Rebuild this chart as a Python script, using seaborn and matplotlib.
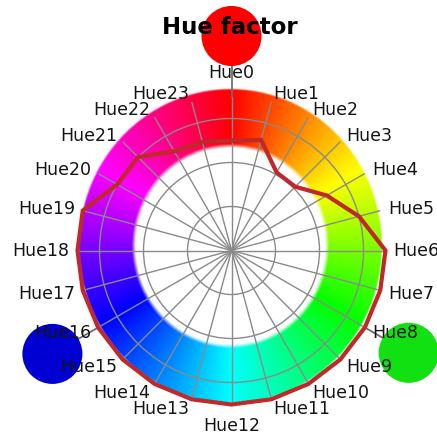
import numpy as np
import matplotlib
matplotlib.use("Agg")
import matplotlib.pyplot as plt
from matplotlib.colors import hsv_to_rgb
import seaborn as sns

# Radar categories and factor values
categories = ["Hue0", "Hue1", "Hue2", "Hue3", "Hue4", "Hue5", "Hue6", "Hue7",
              "Hue8", "Hue9", "Hue10", "Hue11", "Hue12", "Hue13", "Hue14", "Hue15",
              "Hue16", "Hue17", "Hue18", "Hue19", "Hue20", "Hue21", "Hue22", "Hue23"]
values = [0.50, 0.52, 0.41, 0.41, 0.50, 0.60, 0.70, 0.70,
          0.70, 0.70, 0.70, 0.70, 0.70, 0.70, 0.70, 0.70,
          0.70, 0.70, 0.70, 0.70, 0.60, 0.60, 0.52, 0.51]
radial_ticks = [0.2, 0.4, 0.6]
r_max = 0.7

# Primary hue markers (category index, colour)
marker_index = [0, 8, 16]
marker_colors = ["#ff0000", "#11e011", "#0000d2"]

sns.set_theme(style="white")
plt.rcParams["font.family"] = ["DejaVu Sans"]

W, H = 437, 439
fig = plt.figure(figsize=(W / 100, H / 100), dpi=100)

# Colour wheel ring behind the radar
ring_ax = fig.add_axes([78 / W, (H - 405) / H, 305 / W, 316 / H], zorder=0)
n = 900
u = np.linspace(-1, 1, n)
U, V = np.meshgrid(u, u[::-1])
ang = np.mod(np.arctan2(U, V), 2 * np.pi)
rho = np.hypot(U, V)
hsv = np.stack([ang / (2 * np.pi), np.ones_like(ang), np.ones_like(ang)], axis=-1)
rgb = hsv_to_rgb(hsv)
inner = np.clip((rho - 0.622) / 0.026, 0, 1)
outer = np.clip((1 - rho) / 0.012, 0, 1)
alpha = inner * outer
img = np.dstack([rgb, alpha])
ring_ax.imshow(img, extent=[-1, 1, -1, 1], aspect="auto", interpolation="bilinear")
ring_ax.axis("off")

# Polar radar axes
cx, cy, rad = 231.5, 251.5, 154
ax = fig.add_axes([(cx - rad) / W, (H - cy - rad) / H, 2 * rad / W, 2 * rad / H],
                  projection="polar", zorder=1)
ax.set_facecolor("none")
ax.patch.set_alpha(0)
ax.set_theta_zero_location("N")
ax.set_theta_direction(-1)

n_cat = len(categories)
theta = np.deg2rad(np.arange(n_cat) * 360 / n_cat)

# Connector lines and big hue markers
mk_theta = theta[marker_index]
mk_r = [0.975, 0.93, 0.94]
for t, r in zip(mk_theta, mk_r):
    ax.plot([t, t], [r_max, r], color="#6e6e6e", lw=1.3, zorder=1, clip_on=False)
sns.scatterplot(x=mk_theta, y=mk_r, hue=list(range(3)), palette=marker_colors,
                s=1870, linewidth=0, legend=False, ax=ax, zorder=2)
for coll in ax.collections:
    coll.set_clip_on(False)

# Factor polygon
t_closed = np.append(theta, theta[0] + 2 * np.pi)
v_closed = np.append(values, values[0])
sns.lineplot(x=t_closed, y=v_closed, sort=False, estimator=None, ax=ax,
             color="#c0282a", lw=3.0, zorder=4)
for ln in ax.lines[-1:]:
    ln.set_clip_on(False)
    ln.set_solid_joinstyle("miter")

ax.set_ylim(0, r_max)
ax.set_rgrids(radial_ticks, labels=[""] * len(radial_ticks))
ax.set_thetagrids(np.rad2deg(theta), labels=[""] * n_cat)
ax.grid(True, color="#8a8a8a", lw=1.0)
ax.spines["polar"].set_visible(False)
ax.set_xlabel("")
ax.set_ylabel("")

# Category labels around the wheel
px = 0.72
for lab, t in zip(categories, theta):
    s, c = np.sin(t), np.cos(t)
    if abs(s) < 1e-6:
        ha = "center"
        off = (0, 24 if c > 0 else -21)
    else:
        ha = "left" if s > 0 else "right"
        off = (8 * s, 9 * c)
    ax.annotate(lab, xy=(t, r_max), xytext=(off[0] * px, off[1] * px),
                textcoords="offset points", ha=ha, va="center",
                fontsize=12.5, color="#141414", annotation_clip=False, zorder=5)

fig.text(230 / W, 1 - 28 / H, "Hue factor", ha="center", va="center",
         fontsize=16.5, fontweight="bold", color="#000000")

fig.savefig("out.png", dpi=100)
